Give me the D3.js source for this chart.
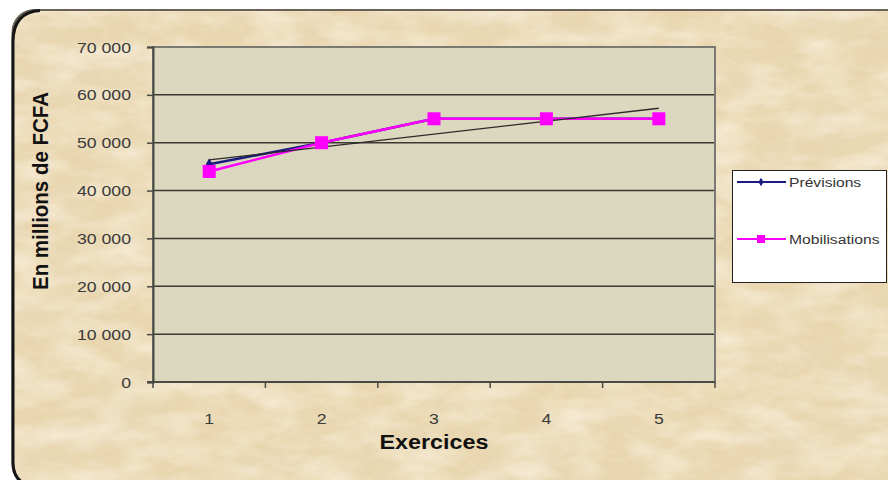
<!DOCTYPE html>
<html>
<head>
<meta charset="utf-8">
<script src="https://cdn.jsdelivr.net/npm/d3@7/dist/d3.min.js"></script>
<style>
  html, body { margin: 0; padding: 0; background: #fff; }
  svg { display: block; }
</style>
</head>
<body>
<svg id="chart" width="888" height="480"></svg>
<script>
// Exercise numbers and the two series (millions of FCFA)
const exercices = ["1", "2", "3", "4", "5"];
const previsions = [45500, 50000, 55000, 55000, 55000];
const mobilisations = [44000, 50000, 55000, 55000, 55000];
const yTicks = [0, 10000, 20000, 30000, 40000, 50000, 60000, 70000];
const seriesNames = ["Prévisions", "Mobilisations"];

const W = 888, H = 480;
const plot = { left: 153, right: 715, top: 47, bottom: 382 };
const FONT = "Liberation Sans, Arial, sans-serif";
const STRETCH = 1.14; // glyphs are drawn slightly wide

const svg = d3.select("#chart");
const defs = svg.append("defs");

// Parchment texture: layers of fractal noise, darker tan and lighter cream
function noiseFilter(id, freq, seed, rgb, a, b, oct = 4) {
  const f = defs.append("filter").attr("id", id)
    .attr("x", 0).attr("y", 0).attr("width", "100%").attr("height", "100%");
  f.append("feTurbulence").attr("type", "fractalNoise")
    .attr("baseFrequency", freq).attr("numOctaves", oct).attr("seed", seed).attr("result", "n");
  f.append("feColorMatrix").attr("in", "n").attr("type", "matrix")
    .attr("values", `0 0 0 0 ${rgb[0]}  0 0 0 0 ${rgb[1]}  0 0 0 0 ${rgb[2]}  ${a} 0 0 0 ${b}`)
    .attr("result", "c");
  f.append("feComposite").attr("in", "c").attr("in2", "SourceGraphic").attr("operator", "in");
}
noiseFilter("tan", "0.012 0.02", 11, [0.82, 0.69, 0.48], 1.6, -0.62);
noiseFilter("cream", "0.02 0.045", 5, [0.95, 0.88, 0.74], 1.5, -0.55);
noiseFilter("speck", "0.09 0.14", 2, [0.86, 0.75, 0.56], 1.5, -0.6, 3);

// White page, then the rounded chart panel running off the right edge
svg.append("rect").attr("width", W).attr("height", H).attr("fill", "#fff");

const panelShape = sel => sel
  .attr("x", 12).attr("y", 10).attr("width", 900).attr("height", 476)
  .attr("rx", 22).attr("ry", 22);
const panel = svg.append("g");
panel.append("rect").call(panelShape).attr("fill", "#e9d6ae");
panel.append("rect").call(panelShape).attr("fill", "#000").attr("filter", "url(#tan)");
panel.append("rect").call(panelShape).attr("fill", "#000").attr("filter", "url(#cream)");
panel.append("rect").call(panelShape).attr("fill", "#000").attr("opacity", 0.5).attr("filter", "url(#speck)");
panel.append("rect").call(panelShape)
  .attr("x", 12.5).attr("fill", "none").attr("stroke", "#6a6256").attr("stroke-width", 2);
// heavier left edge with its rounded corners
panel.append("path").attr("d", "M40,10.5 Q13,12 13,42 L13,462 Q13,484 34,486")
  .attr("fill", "none").attr("stroke", "#151515").attr("stroke-width", 3);

// Scales
const x = d3.scaleBand().domain(exercices).range([plot.left, plot.right]).padding(0);
const y = d3.scaleLinear().domain([0, 70000]).range([plot.bottom, plot.top]);
const cx = d => x(d) + x.bandwidth() / 2;

// Plot area
svg.append("rect")
  .attr("x", plot.left).attr("y", plot.top)
  .attr("width", plot.right - plot.left).attr("height", plot.bottom - plot.top)
  .attr("fill", "#dcd7bf");

// Horizontal gridlines
svg.append("g").selectAll("line").data(yTicks.filter(v => v > 0)).join("line")
  .attr("x1", plot.left).attr("x2", plot.right)
  .attr("y1", d => y(d)).attr("y2", d => y(d))
  .attr("stroke", "#3c3a34").attr("stroke-width", 1.5);

// Plot border
svg.append("rect")
  .attr("x", plot.left).attr("y", plot.top)
  .attr("width", plot.right - plot.left).attr("height", plot.bottom - plot.top)
  .attr("fill", "none").attr("stroke", "#7a7a72").attr("stroke-width", 2);

const fmt = v => d3.format(",")(v).replace(/,/g, " ");

// Places a text at (px, py), widened horizontally about its anchor
function wideText(parent, px, py, anchor, size, weight, fill, str, sx = STRETCH) {
  return parent.append("text")
    .attr("transform", `translate(${px},${py}) scale(${sx},1)`)
    .attr("text-anchor", anchor)
    .attr("font-family", FONT).attr("font-size", size)
    .attr("font-weight", weight).attr("fill", fill)
    .text(str);
}

// Y axis
const yAxis = svg.append("g")
  .attr("transform", `translate(${plot.left},0)`)
  .call(d3.axisLeft(y).tickValues(yTicks).tickSize(6).tickFormat(""));
yAxis.select(".domain").attr("stroke", "#4a4a44").attr("stroke-width", 2);
yAxis.selectAll(".tick line").attr("stroke", "#4a4a44").attr("stroke-width", 1.5);
const yLab = svg.append("g");
yTicks.forEach(v => wideText(yLab, 131, y(v) + 5.5, "end", 15.5, "normal", "#3a3a3a", fmt(v)));

// X axis: ticks sit on category boundaries, labels centred in each band
const xAxisG = svg.append("g").attr("transform", `translate(0,${plot.bottom})`);
xAxisG.append("line")
  .attr("x1", plot.left - 6).attr("x2", plot.right)
  .attr("stroke", "#4a4a44").attr("stroke-width", 2);
const boundaries = exercices.map(d => x(d)).concat([x(exercices[exercices.length - 1]) + x.bandwidth()]);
xAxisG.selectAll("line.tk").data(boundaries).join("line").attr("class", "tk")
  .attr("x1", d => d).attr("x2", d => d).attr("y1", 0).attr("y2", 6)
  .attr("stroke", "#4a4a44").attr("stroke-width", 1.5);
exercices.forEach(d => wideText(xAxisG, cx(d), 42, "middle", 15.5, "normal", "#3a3a3a", d));

// Axis titles
wideText(svg, (plot.left + plot.right) / 2, 449, "middle", 20.5, "bold", "#111", "Exercices");
svg.append("text")
  .attr("transform", "translate(48,191) rotate(-90) scale(1,1.1)")
  .attr("text-anchor", "middle")
  .attr("font-family", FONT)
  .attr("font-size", 20.5).attr("font-weight", "bold").attr("fill", "#111")
  .text("En millions de FCFA");

// Lines
const line = d3.line().x((d, i) => cx(exercices[i])).y(d => y(d));

svg.append("path").datum(previsions).attr("d", line)
  .attr("fill", "none").attr("stroke", "#1a1a80").attr("stroke-width", 2.5);
svg.append("g").selectAll("path").data(previsions).join("path")
  .attr("d", d3.symbol(d3.symbolDiamond, 40))
  .attr("transform", (d, i) => `translate(${cx(exercices[i])},${y(d)})`)
  .attr("fill", "#1a1a80");

// Linear trend of the mobilisations
const xs = exercices.map((d, i) => i + 1);
const mx = d3.mean(xs), my = d3.mean(mobilisations);
const slope = d3.sum(xs, (v, i) => (v - mx) * (mobilisations[i] - my)) / d3.sum(xs, v => (v - mx) ** 2);
const intercept = my - slope * mx;
const trend = [xs[0], xs[xs.length - 1]].map(v => ({ k: exercices[v - 1], v: intercept + slope * v }));

svg.append("path").datum(mobilisations).attr("d", line)
  .attr("fill", "none").attr("stroke", "#ff00ff").attr("stroke-width", 2.5);

svg.append("line")
  .attr("x1", cx(trend[0].k)).attr("y1", y(trend[0].v))
  .attr("x2", cx(trend[1].k)).attr("y2", y(trend[1].v))
  .attr("stroke", "#2a2a2a").attr("stroke-width", 1.3);

svg.append("g").selectAll("rect").data(mobilisations).join("rect")
  .attr("x", (d, i) => cx(exercices[i]) - 6.5).attr("y", d => y(d) - 6.5)
  .attr("width", 13).attr("height", 13)
  .attr("fill", "#ff00ff");

// Legend
const lg = svg.append("g");
lg.append("rect")
  .attr("x", 732.5).attr("y", 170.5).attr("width", 154).attr("height", 112)
  .attr("fill", "#fff").attr("stroke", "#222").attr("stroke-width", 1);
const lgY = [182, 239];
const lgColors = ["#1a1a80", "#ff00ff"];
seriesNames.forEach((name, i) => {
  lg.append("line").attr("x1", 737).attr("x2", 786).attr("y1", lgY[i]).attr("y2", lgY[i])
    .attr("stroke", lgColors[i]).attr("stroke-width", 2);
  if (i === 0) {
    lg.append("path").attr("d", d3.symbol(d3.symbolDiamond, 22))
      .attr("transform", `translate(761,${lgY[i]})`).attr("fill", lgColors[i]);
  } else {
    lg.append("rect").attr("x", 757).attr("y", lgY[i] - 4).attr("width", 8).attr("height", 8)
      .attr("fill", lgColors[i]);
  }
  wideText(lg, 789, lgY[i] + 5, "start", 13.5, "normal", "#333", name, 1.16);
});
</script>
</body>
</html>
